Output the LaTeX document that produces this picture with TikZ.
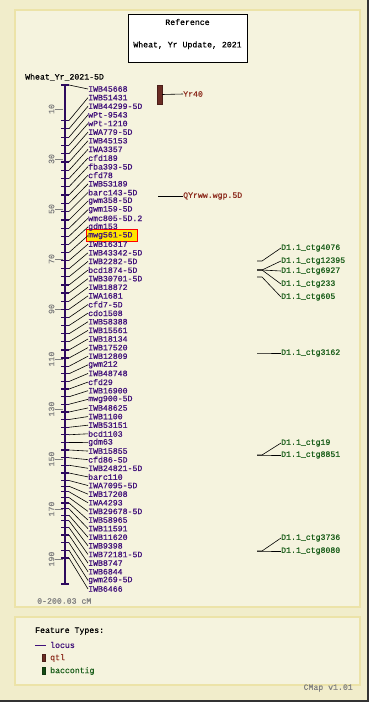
\documentclass[tikz,border=0pt]{standalone}
\usepackage{fontspec}
\setmainfont{Liberation Mono}[FakeBold=0.6]
\usetikzlibrary{positioning}
\definecolor{cpage}{HTML}{F1EDCB}
\definecolor{cpanel}{HTML}{F5F3DE}
\definecolor{cedge}{HTML}{ECE3A8}
\definecolor{clocus}{HTML}{40107A}
\definecolor{cbar}{HTML}{2E0A5E}
\definecolor{cqtl}{HTML}{6B2C24}
\definecolor{cqtltx}{HTML}{8E2E20}
\definecolor{cbac}{HTML}{1A5E1A}
\definecolor{cscale}{HTML}{808080}
\definecolor{cmark}{HTML}{FFE600}
\tikzset{
  panel/.style={fill=cpanel,draw=cedge,line width=1.2pt},
  mono/.style={font=\fontsize{8.2}{9}\selectfont,inner sep=0pt},
  loclbl/.style={mono,text=clocus,anchor=west},
  qtllbl/.style={mono,text=cqtltx,anchor=west},
  baclbl/.style={mono,text=cbac,anchor=west},
  cmlbl/.style={mono,text=cscale,rotate=90},
  link/.style={black,line width=0.6pt},
  mtick/.style={cbar,line width=1.3pt},
}

\begin{document}
\begin{tikzpicture}[x=1pt,y=-1pt]
\useasboundingbox (0,0) rectangle (369,702);

% ================= page and panels =================
\fill[cpage] (0,0) rectangle (369,702);
\draw[panel] (15,10) rectangle (360,607);
\draw[panel] (15,617) rectangle (360,685);
\draw[black!80,line width=2pt] (368,0) -- (368,701) -- (0,701);

% ================= title =================
\node[draw=black,fill=white,line width=0.8pt,minimum width=119pt,minimum height=48pt,inner sep=0pt] (ttl) at (187.5,38) {};
\node[mono] (ttlA) at (187.5,22) {Reference};
\node[mono,below=16pt of ttlA] (ttlB) {Wheat, Yr Update, 2021};
\node[mono,anchor=west] (mapname) at (25,77) {Wheat\_Yr\_2021-5D};

% ================= map: bar and scale =================
\coordinate (ctop) at (65,85);
\coordinate (cbot) at (65,584);
\draw[cbar,line width=2pt] (ctop) -- (cbot);
\draw[mtick] (61,85) -- (69,85);
\draw[mtick] (61,584) -- (69,584);
\foreach \v in {10,30,...,190}{
  \coordinate (sc\v) at (63,{84+2.5*\v});
  \node[cmlbl] (sn\v) at (51.5,{84+2.5*\v}) {\v};
  \draw[cscale,line width=0.6pt] (sc\v) -- ++(-8,0);
}
\node[mono,text=cscale,anchor=west] (range) at (37,601) {0-200.03 cM};

% highlighted locus
\filldraw[fill=cmark,draw=red,line width=0.8pt] (86.5,229.5) rectangle (137.5,241.5);

% ================= loci =================
\foreach \nm/\cm [count=\i from 0] in {IWB45668/0.4, IWB51431/14.6, IWB44299-5D/17.9, wPt-9543/21.3,
    wPt-1210/24.5, IWA779-5D/27.9, IWB45153/31.2, IWA3357/34.5, cfd189/37.8, fba393-5D/41.1,
    cfd78/44.4, IWB53189/47.7, barc143-5D/51.0, gwm358-5D/54.4, gwm159-5D/57.7, wmc805-5D.2/60.9,
    gdm153/64.1, mwg561-5D/67.4, IWB16317/70.6, IWB43342-5D/73.9, IWB2282-5D/77.1, bcd1874-5D/80.4,
    IWB30701-5D/83.6, IWB18872/86.9, IWA1681/90.1, cfd7-5D/93.4, cdo1508/96.6, IWB58388/99.9,
    IWB15561/103.1, IWB18134/106.4, IWB17520/109.6, IWB12809/112.9, gwm212/115.9, IWB48748/119.0,
    cfd29/122.0, IWB16900/125.1, mwg900-5D/128.1, IWB48625/131.2, IWB1100/134.2, IWB53151/137.3,
    bcd1103/140.3, gdm63/143.4, IWB15855/146.4, cfd86-5D/149.5, IWB24821-5D/152.5, barc110/155.6,
    IWA7095-5D/158.6, IWB17208/160.9, IWA4293/163.1, IWB29678-5D/165.4, IWB58965/167.6,
    IWB11591/169.9, IWB11620/172.5, IWB9398/174.7, IWB72181-5D/177.4, IWB8747/180.4,
    IWB6844/183.5, gwm269-5D/186.5, IWB6466/189.6}{
  \node[loclbl] (l\i) at (88,{89+8.62*\i}) {\nm};
  \coordinate (m\i) at (69,{84+2.5*\cm});
  \draw[mtick] (61,{84+2.5*\cm}) -- (m\i);
  \draw[link] (m\i) -- (l\i.west);
}

% ================= qtl =================
\node[fill=cqtl,draw=cqtl!70!black,line width=0.5pt,minimum width=5pt,minimum height=19pt,inner sep=0pt] (q40) at (159.5,94.5) {};
\node[qtllbl] (q40l) at (183,94) {Yr40};
\draw[link] (q40.east) -- (q40l.west);
\coordinate (qww) at (158,196);
\node[qtllbl] (qwwl) at (183,196) {QYrww.wgp.5D};
\draw[link] (qww) -- (qwwl.west);

% ================= baccontigs =================
\coordinate (b1) at (257,261);
\coordinate (b2) at (257,270);
\coordinate (b3) at (257,277);
\coordinate (b4) at (257,353);
\coordinate (b5) at (257,455);
\coordinate (b6) at (257,551);
\foreach \nm/\ly/\s in {4076/248/1, 12395/261/2, 6927/271/2, 233/284/2, 605/297/3,
    3162/353/4, 19/443/5, 8851/455/5, 3736/538/6, 8080/551/6}{
  \node[baclbl] (bc\nm) at (281,\ly) {D1.1\_ctg\nm};
  \draw[link] (b\s) -- ++(5,0) -- (bc\nm.west);
}

% ================= legend =================
\node[mono,anchor=west] (ftypes) at (35,631) {Feature Types:};
\node[loclbl] (lglocus) at (50,645) {locus};
\draw[clocus,line width=0.8pt] (35,645) -- (46,645);
\node[fill=cqtl,draw=cqtl!70!black,minimum width=3pt,minimum height=7pt,inner sep=0pt] (lgq) at (43.5,658) {};
\node[qtllbl] (lgqtl) at (50,658) {qtl};
\node[fill=cbac!80!black,draw=cbac!60!black,minimum width=3pt,minimum height=7pt,inner sep=0pt] (lgb) at (43.5,671) {};
\node[baclbl] (lgbac) at (50,671) {baccontig};
\node[mono,text=cscale,anchor=east] (ver) at (353,688) {CMap v1.01};

\end{tikzpicture}
\end{document}
